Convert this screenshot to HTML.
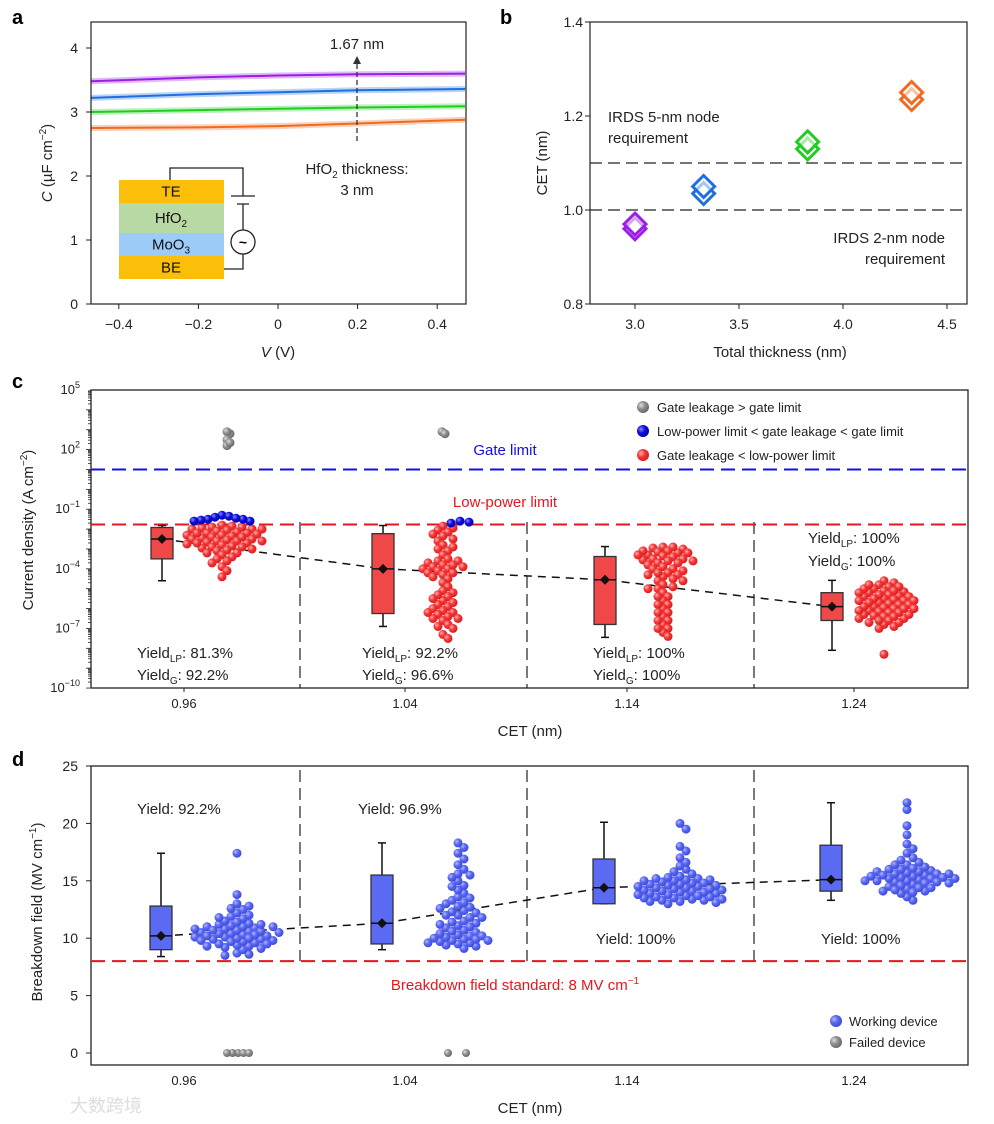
<!DOCTYPE html>
<html><head><meta charset="utf-8"><style>
body{margin:0;background:#fff}
svg{display:block;font-family:"Liberation Sans",sans-serif}
</style></head><body>
<svg id="fig" width="994" height="1124" viewBox="0 0 994 1124" xmlns="http://www.w3.org/2000/svg">
<defs>
<radialGradient id="gRed" cx="0.35" cy="0.35" r="0.7"><stop offset="0" stop-color="#ffb0b0"/><stop offset="0.45" stop-color="#f43a3a"/><stop offset="1" stop-color="#d81818"/></radialGradient>
<radialGradient id="gBlue" cx="0.35" cy="0.35" r="0.7"><stop offset="0" stop-color="#8a8aff"/><stop offset="0.45" stop-color="#1010e0"/><stop offset="1" stop-color="#0000a8"/></radialGradient>
<radialGradient id="gGray" cx="0.35" cy="0.35" r="0.7"><stop offset="0" stop-color="#e0e0e0"/><stop offset="0.45" stop-color="#909090"/><stop offset="1" stop-color="#666"/></radialGradient>
<radialGradient id="gLB" cx="0.35" cy="0.35" r="0.7"><stop offset="0" stop-color="#b0b8ff"/><stop offset="0.45" stop-color="#5a68f2"/><stop offset="1" stop-color="#3a48d8"/></radialGradient>
</defs>
<text x="12" y="24" font-size="20" font-weight="bold">a</text>
<text x="500" y="24" font-size="20" font-weight="bold">b</text>
<text x="12" y="388" font-size="20" font-weight="bold">c</text>
<text x="12" y="766" font-size="20" font-weight="bold">d</text>
<g id="pa"></g>
<g id="pb"></g>
<g id="pc"></g>
<g id="pd"></g>
<text x="70" y="1112" font-size="18" fill="#ddd" font-family="'Liberation Sans','Noto Sans CJK SC',sans-serif">大数跨境</text>
</svg>
<script>
// Panel a
const aVolt = [-0.47, -0.2, 0, 0.2, 0.47];
const aPurple = [3.48, 3.54, 3.57, 3.59, 3.60];
const aBlue = [3.22, 3.28, 3.31, 3.34, 3.36];
const aGreen = [3.00, 3.03, 3.05, 3.07, 3.09];
const aOrange = [2.75, 2.76, 2.78, 2.82, 2.88];
const aXTicks = [-0.4, -0.2, 0, 0.2, 0.4];
const aYTicks = [0, 1, 2, 3, 4];
// Panel b
const bThick = [3.0, 3.33, 3.83, 4.33];
const bCetA = [0.96, 1.035, 1.13, 1.235];
const bCetB = [0.97, 1.05, 1.145, 1.25];
const bXTicks = [3.0, 3.5, 4.0, 4.5];
const bYTicks = [0.8, 1.0, 1.2, 1.4];
// Panel c (log10 current density)
const cCats = ["0.96", "1.04", "1.14", "1.24"];
const cLo = [-4.6, -6.9, -7.45, -8.1];
const cQ1 = [-3.5, -6.25, -6.8, -6.6];
const cMed = [-2.5, -4.0, -4.55, -5.9];
const cQ3 = [-1.92, -2.23, -3.38, -5.2];
const cHi = [-1.82, -1.82, -2.88, -4.58];
const cRed0 = [-1.8,-1.85,-1.9,-1.95,-2.0,-2.0,-2.05,-2.1,-2.15,-2.2,-2.2,-2.25,-2.3,-2.35,-2.4,-2.45,-2.5,-2.55,-2.6,-2.6,-2.65,-2.7,-2.75,-2.8,-2.85,-2.9,-2.95,-3.0,-3.05,-3.1,-3.2,-3.3,-3.4,-3.5,-3.6,-3.7,-3.9,-4.1,-4.4,-2.3,-2.4,-2.5,-2.7,-2.9,-1.9,-2.0,-2.2,-3.2,-2.6];
const cRed1 = [-1.85,-1.95,-2.05,-2.15,-2.25,-2.35,-2.5,-2.6,-2.8,-3.0,-3.1,-3.3,-3.5,-3.6,-3.7,-3.8,-3.9,-4.0,-4.1,-4.2,-4.3,-4.5,-4.7,-4.9,-5.1,-5.2,-5.4,-5.6,-5.8,-5.9,-6.0,-6.1,-6.2,-6.3,-6.4,-6.5,-6.6,-6.8,-7.0,-7.3,-7.5,-2.9,-3.6,-3.8,-4.0,-4.2,-5.5,-5.7,-6.2,-6.5,-6.9,-3.9,-4.4,-5.3];
const cRed2 = [-2.9,-2.95,-3.0,-3.1,-3.15,-3.2,-3.3,-3.35,-3.4,-3.5,-3.55,-3.6,-3.7,-3.8,-3.9,-4.0,-4.1,-4.2,-4.3,-4.4,-4.5,-4.6,-4.8,-5.0,-5.2,-5.4,-5.6,-5.8,-6.0,-6.2,-6.4,-6.6,-6.8,-7.0,-7.2,-7.4,-3.1,-3.3,-3.5,-3.7,-4.0,-4.3,-4.6,-5.0,-5.4,-5.8,-6.2,-6.6,-7.0,-2.9,-3.2,-3.6,-4.2,-4.9];
const cRed3 = [-4.6,-4.7,-4.8,-4.9,-5.0,-5.1,-5.15,-5.2,-5.3,-5.35,-5.4,-5.5,-5.55,-5.6,-5.7,-5.75,-5.8,-5.9,-5.95,-6.0,-6.1,-6.15,-6.2,-6.3,-6.35,-6.4,-6.5,-6.6,-6.7,-6.8,-6.9,-7.0,-8.3,-4.9,-5.1,-5.3,-5.5,-5.7,-5.9,-6.1,-6.3,-6.5,-6.7,-5.0,-5.4,-5.8,-6.2,-6.6,-5.2,-5.6,-6.0,-6.4,-4.8,-5.6,-6.0];
const cBlue0 = [-1.3,-1.35,-1.4,-1.5,-1.55,-1.6,-1.6,-1.5,-1.45];
const cBlue1 = [-1.65,-1.6,-1.7];
const cGray0 = [2.8,2.9,2.5,2.2,2.35];
const cGray1 = [2.9,2.8];
const cYTickExp = [5, 2, -1, -4, -7, -10];
// Panel d
const dCats = ["0.96", "1.04", "1.14", "1.24"];
const dLo = [8.4, 9.0, 13.0, 13.3];
const dQ1 = [9.0, 9.5, 13.0, 14.1];
const dMed = [10.2, 11.3, 14.4, 15.1];
const dQ3 = [12.8, 15.5, 16.9, 18.1];
const dHi = [17.4, 18.3, 20.1, 21.8];
const dW0 = [8.5,8.6,8.7,9.0,9.1,9.2,9.3,9.4,9.5,9.6,9.7,9.8,9.9,10.0,10.1,10.2,10.3,10.4,10.5,10.6,10.7,10.8,10.9,11.0,11.1,11.2,11.3,11.5,11.7,11.9,12.0,12.2,12.5,12.8,13.0,13.8,17.4,9.5,9.9,10.3,10.6,11.0,11.4,10.1,10.5,9.8,10.8,9.3,10.2,11.8,12.6,11.2,10.4,9.7,10.0,10.7,11.0];
const dW1 = [9.1,9.3,9.4,9.5,9.6,9.7,9.8,9.9,10.0,10.1,10.2,10.3,10.5,10.7,10.9,11.1,11.3,11.5,11.8,12.0,12.2,12.4,12.6,12.8,13.0,13.3,13.6,13.9,14.2,14.6,15.0,15.3,15.6,16.0,16.4,16.9,17.4,17.9,18.3,9.6,9.9,10.2,10.6,11.0,11.4,11.8,12.3,12.7,13.1,13.5,14.5,15.5,9.8,10.4,11.2,12.0];
const dW2 = [13.0,13.1,13.2,13.3,13.4,13.5,13.6,13.7,13.8,13.9,14.0,14.1,14.2,14.3,14.4,14.5,14.6,14.7,14.8,14.9,15.0,15.1,15.2,15.4,15.6,15.8,16.0,16.3,16.6,17.0,17.6,18.0,19.5,20.0,13.2,13.5,13.8,14.1,14.4,14.7,15.0,15.3,13.3,13.9,14.5,15.1,13.6,14.2,14.8,13.4,14.0,14.6,15.2,13.7,14.3];
const dW3 = [13.3,13.6,13.9,14.1,14.3,14.5,14.7,14.9,15.0,15.1,15.2,15.3,15.4,15.5,15.6,15.7,15.8,15.9,16.0,16.2,16.4,16.6,16.8,17.0,17.4,17.8,18.2,19.0,19.8,21.2,21.8,14.0,14.4,14.8,15.2,15.6,16.0,16.4,14.2,14.6,15.0,15.4,15.8,14.4,14.8,15.2,15.6,14.1,14.9,15.3,16.1,15.0,15.5];
const dF0 = [0, 0, 0, 0, 0];
const dF1 = [0, 0];
const dYTicks = [0, 5, 10, 15, 20, 25];

const NS = "http://www.w3.org/2000/svg";
function mk(parent, tag, attrs, text) {
  const e = document.createElementNS(NS, tag);
  for (const k in attrs) e.setAttribute(k, attrs[k]);
  if (text !== undefined) e.textContent = text;
  parent.appendChild(e);
  return e;
}
const FS = 14;

// ================= Panel a =================
(function(){
  const g = document.getElementById('pa');
  const X0 = 91, X1 = 466, Y0 = 22, Y1 = 304;
  const xs = v => 278 + v * 398;
  const ys = v => 304 - v * 64;
  const series = [[aPurple, '#9a1ee6', 'curve-1-67nm'], [aBlue, '#1f6fe0', 'curve-2-0nm'], [aGreen, '#22cc22', 'curve-2-33nm'], [aOrange, '#f06a20', 'curve-3nm']];
  series.forEach(s => {
    const pts = aVolt.map((v, i) => xs(v).toFixed(1) + ',' + ys(s[0][i]).toFixed(1)).join(' ');
    const band = mk(g, 'polyline', {points: pts, fill: 'none', stroke: s[1], 'stroke-opacity': 0.3, 'stroke-width': 6});
    
    
    const l = mk(g, 'polyline', {points: pts, fill: 'none', stroke: s[1], 'stroke-width': 2});
    
    
  });
  const fr = mk(g, 'rect', {x: X0, y: Y0, width: X1 - X0, height: Y1 - Y0, fill: 'none', stroke: '#222', 'stroke-width': 1.2});
   
  aXTicks.forEach(t => {
    mk(g, 'line', {x1: xs(t), x2: xs(t), y1: Y1, y2: Y1 + 5, stroke: '#222'});
    const tx = mk(g, 'text', {x: xs(t), y: 329, 'font-size': FS, 'text-anchor': 'middle', fill: '#222'}, t === 0 ? '0' : (t < 0 ? '\u2212' : '') + Math.abs(t).toFixed(1));
     
  });
  aYTicks.forEach(t => {
    mk(g, 'line', {x1: X0 - 5, x2: X0, y1: ys(t), y2: ys(t), stroke: '#222'});
    const tx = mk(g, 'text', {x: 78, y: ys(t) + 5, 'font-size': FS, 'text-anchor': 'end', fill: '#222'}, String(t));
     
  });
  const xt = mk(g, 'text', {x: 278, y: 357, 'font-size': 15, 'text-anchor': 'middle', fill: '#222'});
  xt.innerHTML = '<tspan font-style="italic">V</tspan> (V)';
   
  const yt = mk(g, 'text', {transform: 'translate(52,163) rotate(-90)', 'font-size': 15, 'text-anchor': 'middle', fill: '#222'});
  yt.innerHTML = '<tspan font-style="italic">C</tspan> (\u00b5F cm<tspan dy="-6" font-size="10">\u22122</tspan><tspan dy="6">)</tspan>';
   
  const ar = mk(g, 'line', {x1: 357, x2: 357, y1: 141, y2: 62, stroke: '#333', 'stroke-width': 1.3, 'stroke-dasharray': '5,3'});
   
  mk(g, 'path', {d: 'M353,64 L357,56 L361,64 Z', fill: '#333'});
  const t1 = mk(g, 'text', {x: 357, y: 49, 'font-size': 15, 'text-anchor': 'middle', fill: '#222'}, '1.67 nm');
   
  const t2 = mk(g, 'text', {x: 357, y: 174, 'font-size': 15, 'text-anchor': 'middle', fill: '#222'});
  t2.innerHTML = 'HfO<tspan dy="4" font-size="10">2</tspan><tspan dy="-4"> thickness:</tspan>';
   
  const t3 = mk(g, 'text', {x: 357, y: 195, 'font-size': 15, 'text-anchor': 'middle', fill: '#222'}, '3 nm');
   
  const ins = mk(g, 'g', {});
   
  const layers = [['TE', '#fbbf0a', 180, 23], ['HfO2', '#b8d9a4', 203, 30], ['MoO3', '#9ccbf7', 233, 23], ['BE', '#fbbf0a', 256, 23]];
  layers.forEach(L => {
    const r = mk(ins, 'rect', {x: 119, y: L[2], width: 105, height: L[3], fill: L[1]});
     
    const tx = mk(ins, 'text', {x: 171, y: L[2] + L[3] / 2 + 5, 'font-size': 15, 'text-anchor': 'middle', fill: '#111'});
    if (L[0] === 'HfO2') tx.innerHTML = 'HfO<tspan dy="4" font-size="10">2</tspan>';
    else if (L[0] === 'MoO3') tx.innerHTML = 'MoO<tspan dy="4" font-size="10">3</tspan>';
    else tx.textContent = L[0];
  });
  mk(ins, 'path', {d: 'M170,180 V168 H243 V196 M231,196 H255 M237,204 H249 M243,204 V230 M243,254 V269 H224', fill: 'none', stroke: '#222', 'stroke-width': 1.3});
  mk(ins, 'circle', {cx: 243, cy: 242, r: 12, fill: '#fff', stroke: '#222', 'stroke-width': 1.3});
  mk(ins, 'text', {x: 243, y: 247, 'font-size': 14, 'text-anchor': 'middle', 'font-weight': 'bold'}, '~');
})();

// ================= Panel b =================
(function(){
  const g = document.getElementById('pb');
  const X0 = 590, X1 = 967, Y0 = 22, Y1 = 304;
  const xs = v => 635 + (v - 3.0) * 208;
  const ys = v => 304 - (v - 0.8) * 470;
  const fr = mk(g, 'rect', {x: X0, y: Y0, width: X1 - X0, height: Y1 - Y0, fill: 'none', stroke: '#222', 'stroke-width': 1.2});
   
  bXTicks.forEach(t => {
    mk(g, 'line', {x1: xs(t), x2: xs(t), y1: Y1, y2: Y1 + 5, stroke: '#222'});
    const tx = mk(g, 'text', {x: xs(t), y: 329, 'font-size': FS, 'text-anchor': 'middle', fill: '#222'}, t.toFixed(1));
     
  });
  bYTicks.forEach(t => {
    mk(g, 'line', {x1: X0 - 5, x2: X0, y1: ys(t), y2: ys(t), stroke: '#222'});
    const tx = mk(g, 'text', {x: 583, y: ys(t) + 5, 'font-size': FS, 'text-anchor': 'end', fill: '#222'}, t.toFixed(1));
     
  });
  const xt = mk(g, 'text', {x: 780, y: 357, 'font-size': 15, 'text-anchor': 'middle', fill: '#222'}, 'Total thickness (nm)');
   
  const yt = mk(g, 'text', {transform: 'translate(547,163) rotate(-90)', 'font-size': 15, 'text-anchor': 'middle', fill: '#222'}, 'CET (nm)');
   
  const l5 = mk(g, 'line', {x1: X0, x2: X1, y1: ys(1.1), y2: ys(1.1), stroke: '#222', 'stroke-width': 1.3, 'stroke-dasharray': '12,6'});
   
  const l2 = mk(g, 'line', {x1: X0, x2: X1, y1: ys(1.0), y2: ys(1.0), stroke: '#222', 'stroke-width': 1.3, 'stroke-dasharray': '12,6'});
   
  [['IRDS 5-nm node', 608, 122, 'start'], ['requirement', 608, 143, 'start'], ['IRDS 2-nm node', 945, 243, 'end'], ['requirement', 945, 264, 'end']].forEach((T, i) => {
    const tx = mk(g, 'text', {x: T[1], y: T[2], 'font-size': 15, 'text-anchor': T[3], fill: '#222'}, T[0]);
     
  });
  const cols = ['#9a1ee6', '#1f6fe0', '#22cc22', '#f06a20'];
  bThick.forEach((t, i) => {
    [bCetA[i], bCetB[i]].forEach(v => {
      const cx = xs(t), cy = ys(v);
      const d = mk(g, 'path', {d: `M${cx},${cy - 11} L${cx + 11},${cy} L${cx},${cy + 11} L${cx - 11},${cy} Z`, fill: '#fff', 'fill-opacity': 0.6, stroke: cols[i], 'stroke-width': 3});
       
    });
  });
})();

// ---------- swarm layout ----------
function swarm(vals, ys, r, minD, step) {
  const order = vals.map((v, i) => i).sort((a, b) => vals[b] - vals[a]);
  const placed = [];
  const out = new Array(vals.length);
  order.forEach(i => {
    const y = ys(vals[i]);
    for (let k = 0; k < 60; k++) {
      const off = (k % 2 ? 1 : -1) * Math.ceil(k / 2) * step;
      if (!placed.some(p => (p[0] - off) ** 2 + (p[1] - y) ** 2 < minD * minD)) {
        placed.push([off, y]); out[i] = [off, y]; break;
      }
    }
    if (!out[i]) out[i] = [0, y];
  });
  return out;
}

function boxes(g, cx, ys, lo, q1, med, q3, hi, fill, i) {
  const w1 = mk(g, 'line', {x1: cx, x2: cx, y1: ys(hi), y2: ys(q3), stroke: '#111', 'stroke-width': 1.5});
   
  const w2 = mk(g, 'line', {x1: cx, x2: cx, y1: ys(q1), y2: ys(lo), stroke: '#111', 'stroke-width': 1.5});
   
  mk(g, 'line', {x1: cx - 4, x2: cx + 4, y1: ys(hi), y2: ys(hi), stroke: '#111', 'stroke-width': 1.5});
  mk(g, 'line', {x1: cx - 4, x2: cx + 4, y1: ys(lo), y2: ys(lo), stroke: '#111', 'stroke-width': 1.5});
  const b = mk(g, 'rect', {x: cx - 11, y: ys(q3), width: 22, height: ys(q1) - ys(q3), fill: fill, stroke: '#333', 'stroke-width': 1.3});
   
  mk(g, 'line', {x1: cx - 11, x2: cx + 11, y1: ys(med), y2: ys(med), stroke: '#111', 'stroke-width': 1.5});
  const m = ys(med);
  const d = mk(g, 'path', {d: `M${cx},${m - 5} L${cx + 5},${m} L${cx},${m + 5} L${cx - 5},${m} Z`, fill: '#111'});
   
}

function dots(g, vals, cx, ys, r, grad, name, minD, step) {
  swarm(vals, ys, r, minD, step).forEach(p => {
    const c = mk(g, 'circle', {cx: (cx + p[0]).toFixed(1), cy: p[1].toFixed(1), r: r, fill: 'url(#' + grad + ')'});
    
    
  });
}

// ================= Panel c =================
(function(){
  const g = document.getElementById('pc');
  const X0 = 91, X1 = 968, Y0 = 390, Y1 = 688;
  const ys = v => 390 + (5 - v) * 19.87;
  const cx = [184, 405, 627, 854];
  const fr = mk(g, 'rect', {x: X0, y: Y0, width: X1 - X0, height: Y1 - Y0, fill: 'none', stroke: '#222', 'stroke-width': 1.3});
   
  for (let e = -10; e < 5; e++) {
    for (let k = 1; k < 10; k++) {
      const y = ys(e + Math.log10(k));
      mk(g, 'line', {x1: X0 - (k === 1 ? 5 : 3), x2: X0, y1: y, y2: y, stroke: '#222', 'stroke-width': 0.8});
    }
  }
  cYTickExp.forEach(e => {
    const tx = mk(g, 'text', {x: 80, y: ys(e) + 4, 'font-size': 13, 'text-anchor': 'end', fill: '#222'});
    tx.innerHTML = '10<tspan dy="-6" font-size="9">' + (e < 0 ? '\u2212' + (-e) : e) + '</tspan>';
     
  });
  cCats.forEach((c, i) => {
    mk(g, 'line', {x1: cx[i], x2: cx[i], y1: Y1, y2: Y1 + 4, stroke: '#222'});
    const tx = mk(g, 'text', {x: cx[i], y: 708, 'font-size': 13, 'text-anchor': 'middle', fill: '#222'}, c);
     
  });
  const xt = mk(g, 'text', {x: 530, y: 736, 'font-size': 15, 'text-anchor': 'middle', fill: '#222'}, 'CET (nm)');
   
  const yt = mk(g, 'text', {transform: 'translate(33,530) rotate(-90)', 'font-size': 15, 'text-anchor': 'middle', fill: '#222'});
  yt.innerHTML = 'Current density (A cm<tspan dy="-6" font-size="10">\u22122</tspan><tspan dy="6">)</tspan>';
   
  [300, 527, 754].forEach(x => {
    const l = mk(g, 'line', {x1: x, x2: x, y1: 522, y2: Y1, stroke: '#222', 'stroke-width': 1.2, 'stroke-dasharray': '12,6'});
     
  });
  const gl = mk(g, 'line', {x1: X0, x2: X1, y1: ys(1), y2: ys(1), stroke: '#1010e0', 'stroke-width': 2, 'stroke-dasharray': '14,7'});
   
  const lp = mk(g, 'line', {x1: X0, x2: X1, y1: ys(-1.77), y2: ys(-1.77), stroke: '#e8141e', 'stroke-width': 2, 'stroke-dasharray': '14,7'});
   
  const gt = mk(g, 'text', {x: 505, y: 455, 'font-size': 15, 'text-anchor': 'middle', fill: '#1010e0'}, 'Gate limit');
   
  const lt = mk(g, 'text', {x: 505, y: 507, 'font-size': 15, 'text-anchor': 'middle', fill: '#e8141e'}, 'Low-power limit');
   
  const mpts = cMed.map((m, i) => (cx[i] - 22) + ',' + ys(m).toFixed(1)).join(' ');
  const ml = mk(g, 'polyline', {points: mpts, fill: 'none', stroke: '#111', 'stroke-width': 1.5, 'stroke-dasharray': '8,6'});
   
  cCats.forEach((c, i) => boxes(g, cx[i] - 22, ys, cLo[i], cQ1[i], cMed[i], cQ3[i], cHi[i], '#f04848', i));
  const reds = [cRed0, cRed1, cRed2, cRed3];
  const redOff = [38, 38, 36, 30];
  reds.forEach((v, i) => dots(g, v, cx[i] + redOff[i], ys, 4.5, 'gRed', 'red-device-point', 6, 5));
  dots(g, cBlue0, cx[0] + 38, ys, 4.5, 'gBlue', 'blue-device-point', 6, 7);
  dots(g, cBlue1, cx[1] + 55, ys, 4.5, 'gBlue', 'blue-device-point', 6, 9);
  dots(g, cGray0, cx[0] + 43, ys, 4.5, 'gGray', 'gray-device-point', 3, 3);
  dots(g, cGray1, cx[1] + 37, ys, 4.5, 'gGray', 'gray-device-point', 3, 3);
  const yl = [[137, 658, 'LP', '81.3%'], [137, 680, 'G', '92.2%'], [362, 658, 'LP', '92.2%'], [362, 680, 'G', '96.6%'], [593, 658, 'LP', '100%'], [593, 680, 'G', '100%'], [808, 543, 'LP', '100%'], [808, 566, 'G', '100%']];
  yl.forEach(Y => {
    const tx = mk(g, 'text', {x: Y[0], y: Y[1], 'font-size': 15, fill: '#222'});
    tx.innerHTML = 'Yield<tspan dy="4" font-size="10">' + Y[2] + '</tspan><tspan dy="-4">: ' + Y[3] + '</tspan>';
     
  });
  const lg = mk(g, 'g', {});
   
  [['gGray', 'Gate leakage > gate limit', 407], ['gBlue', 'Low-power limit < gate leakage < gate limit', 431], ['gRed', 'Gate leakage < low-power limit', 455]].forEach(L => {
    mk(lg, 'circle', {cx: 643, cy: L[2], r: 6, fill: 'url(#' + L[0] + ')'});
    const tx = mk(lg, 'text', {x: 657, y: L[2] + 5, 'font-size': 13, fill: '#222'}, L[1]);
     
  });
})();

// ================= Panel d =================
(function(){
  const g = document.getElementById('pd');
  const X0 = 91, X1 = 968, Y0 = 766, Y1 = 1065;
  const ys = v => 1053 - v * 11.48;
  const cx = [184, 405, 627, 854];
  const fr = mk(g, 'rect', {x: X0, y: Y0, width: X1 - X0, height: Y1 - Y0, fill: 'none', stroke: '#222', 'stroke-width': 1.3});
   
  dYTicks.forEach(t => {
    mk(g, 'line', {x1: X0 - 5, x2: X0, y1: ys(t), y2: ys(t), stroke: '#222'});
    const tx = mk(g, 'text', {x: 78, y: ys(t) + 5, 'font-size': 14, 'text-anchor': 'end', fill: '#222'}, String(t));
     
  });
  dCats.forEach((c, i) => {
    const tx = mk(g, 'text', {x: cx[i], y: 1085, 'font-size': 13, 'text-anchor': 'middle', fill: '#222'}, c);
     
  });
  const xt = mk(g, 'text', {x: 530, y: 1113, 'font-size': 15, 'text-anchor': 'middle', fill: '#222'}, 'CET (nm)');
   
  const yt = mk(g, 'text', {transform: 'translate(42,912) rotate(-90)', 'font-size': 15, 'text-anchor': 'middle', fill: '#222'});
  yt.innerHTML = 'Breakdown field (MV cm<tspan dy="-6" font-size="10">\u22121</tspan><tspan dy="6">)</tspan>';
   
  [300, 527, 754].forEach(x => {
    const l = mk(g, 'line', {x1: x, x2: x, y1: 770, y2: ys(8), stroke: '#222', 'stroke-width': 1.2, 'stroke-dasharray': '12,6'});
     
  });
  const sl = mk(g, 'line', {x1: X0, x2: X1, y1: ys(8), y2: ys(8), stroke: '#e8141e', 'stroke-width': 2, 'stroke-dasharray': '14,7'});
   
  const st = mk(g, 'text', {x: 515, y: 990, 'font-size': 15, 'text-anchor': 'middle', fill: '#e8141e'});
  st.innerHTML = 'Breakdown field standard: 8 MV cm<tspan dy="-6" font-size="10">\u22121</tspan>';
   
  const mpts = dMed.map((m, i) => (cx[i] - 23) + ',' + ys(m).toFixed(1)).join(' ');
  const ml = mk(g, 'polyline', {points: mpts, fill: 'none', stroke: '#111', 'stroke-width': 1.5, 'stroke-dasharray': '8,6'});
   
  dCats.forEach((c, i) => boxes(g, cx[i] - 23, ys, dLo[i], dQ1[i], dMed[i], dQ3[i], dHi[i], '#5a6af2', i));
  [dW0, dW1, dW2, dW3].forEach((v, i) => dots(g, v, cx[i] + 53, ys, 4.5, 'gLB', 'working-device-point', 6.5, 6));
  dots(g, dF0, cx[0] + 54, ys, 4, 'gGray', 'failed-device-point', 5, 5.5);
  const f1 = [cx[1] + 43, cx[1] + 61];
  dF1.forEach((v, j) => {
    const c = mk(g, 'circle', {cx: f1[j], cy: ys(v), r: 4, fill: 'url(#gGray)'});
    
    
  });
  [[137, 814, '92.2%'], [358, 814, '96.9%'], [596, 944, '100%'], [821, 944, '100%']].forEach(Y => {
    const tx = mk(g, 'text', {x: Y[0], y: Y[1], 'font-size': 15, fill: '#222'}, 'Yield: ' + Y[2]);
     
  });
  const lg = mk(g, 'g', {});
   
  [['gLB', 'Working device', 1021], ['gGray', 'Failed device', 1042]].forEach(L => {
    mk(lg, 'circle', {cx: 836, cy: L[2], r: 6, fill: 'url(#' + L[0] + ')'});
    const tx = mk(lg, 'text', {x: 849, y: L[2] + 5, 'font-size': 13, fill: '#222'}, L[1]);
     
  });
})();
</script>
</body></html>
